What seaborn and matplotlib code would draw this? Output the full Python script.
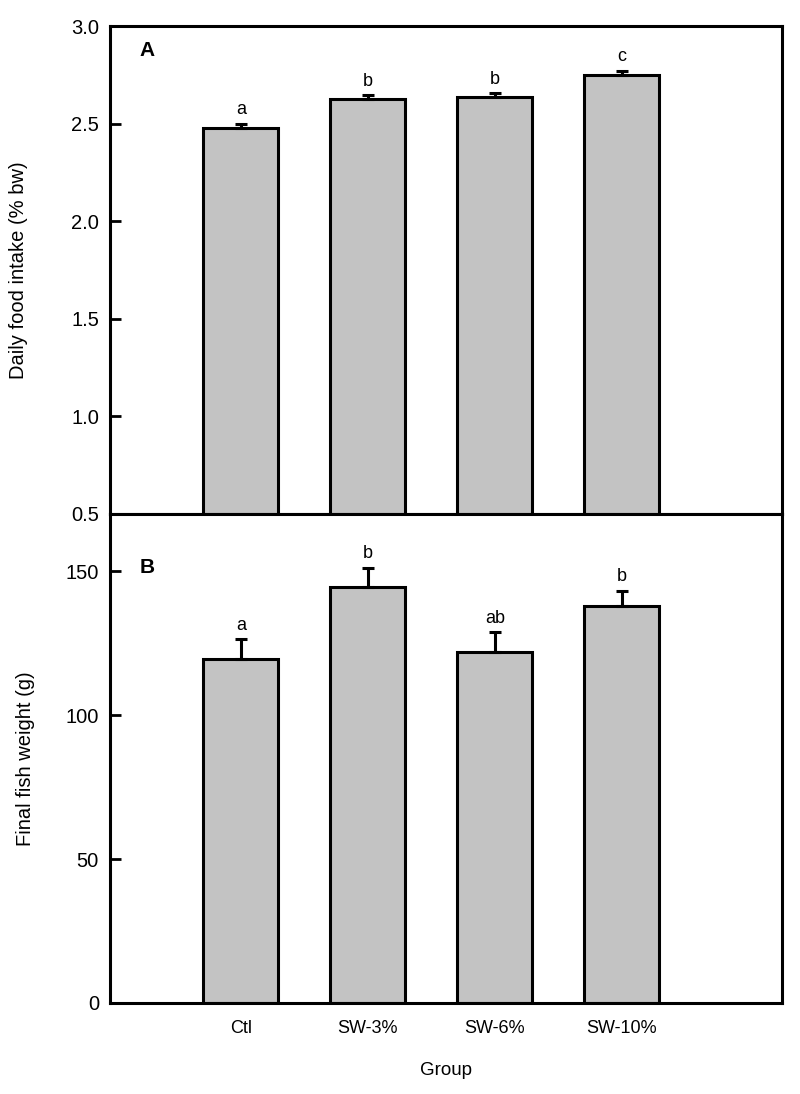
import numpy as np
import pandas as pd
import matplotlib
matplotlib.use("Agg")
import matplotlib.pyplot as plt
import seaborn as sns

# data
groups = ["Ctl", "SW-3%", "SW-6%", "SW-10%"]
intake = [2.48, 2.625, 2.635, 2.75]
intake_err = [0.02, 0.02, 0.02, 0.02]
intake_letters = ["a", "b", "b", "c"]
weight = [119.5, 144.5, 122.0, 138.0]
weight_err = [7.0, 6.8, 6.8, 5.2]
weight_letters = ["a", "b", "ab", "b"]

sns.set_style("white")
plt.rcParams["font.family"] = ["Liberation Sans", "DejaVu Sans"]
plt.rcParams["text.color"] = "black"
plt.rcParams["axes.labelcolor"] = "black"
plt.rcParams["xtick.color"] = "black"
plt.rcParams["ytick.color"] = "black"

fig = plt.figure(figsize=(8, 10.94), dpi=100)
ax1 = fig.add_axes([0.1375, 0.5302, 0.84, 0.446])
ax2 = fig.add_axes([0.1375, 0.0832, 0.84, 0.4470])

df1 = pd.DataFrame({"group": groups, "value": intake})
df2 = pd.DataFrame({"group": groups, "value": weight})

panels = [
    (ax1, df1, intake_err, intake_letters, (0.5, 3.0), np.arange(0.5, 3.01, 0.5),
     "Daily food intake (% bw)", "A", 0.95, -0.122),
    (ax2, df2, weight_err, weight_letters, (0, 170), [0, 50, 100, 150],
     "Final fish weight (g)", "B", 0.89, -0.112),
]

for ax, df, err, letters, ylim, yticks, ylabel, tag, ty, lx in panels:
    sns.barplot(data=df, x="group", y="value", ax=ax, color="#c3c3c3",
                width=0.59, edgecolor="black", linewidth=2.2, saturation=1,
                errorbar=None)
    x = np.arange(len(df))
    ax.errorbar(x, df["value"], yerr=[np.zeros(len(err)), err], fmt="none",
                ecolor="black", elinewidth=2.2, capsize=4.5, capthick=2.2, zorder=3)
    for xi, v, e, lab in zip(x, df["value"], err, letters):
        ax.annotate(lab, (xi, v + e), xytext=(0, 4), textcoords="offset points",
                    ha="center", va="bottom", fontsize=13)
    ax.set_xlim(-1.03, 4.26)
    ax.set_ylim(*ylim)
    ax.set_yticks(yticks)
    if ax is ax1:
        ax.set_yticklabels([f"{t:.1f}" for t in yticks])
    ax.set_ylabel(ylabel, fontsize=14.5)
    ax.yaxis.set_label_coords(lx, 0.5)
    ax.set_xlabel("")
    ax.text(0.055, ty, tag, transform=ax.transAxes, fontsize=15,
            fontweight="bold", ha="center", va="center")
    for s in ax.spines.values():
        s.set_visible(True)
        s.set_color("black")
        s.set_linewidth(2.2)
    ax.tick_params(axis="y", direction="in", length=8, width=2, labelsize=14.5,
                   pad=8, left=True, right=False)

ax1.tick_params(axis="x", bottom=False, labelbottom=False)
ax2.tick_params(axis="x", length=0, labelsize=13, pad=12)
ax2.set_xlabel("Group", fontsize=13.5, labelpad=18)

fig.savefig("out.png", dpi=100)
